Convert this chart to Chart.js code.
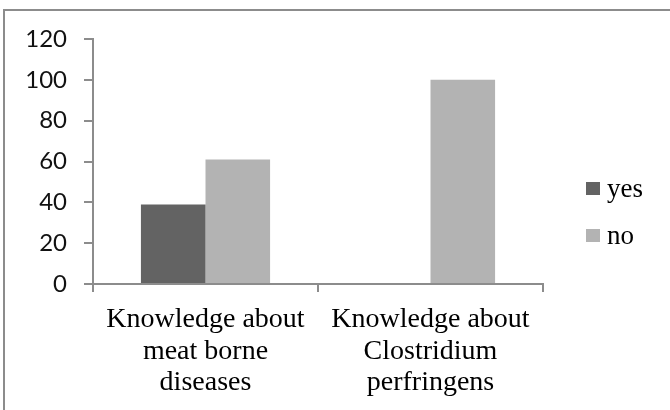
<!DOCTYPE html>
<html><head><meta charset="utf-8">
<script src="https://cdn.jsdelivr.net/npm/chart.js@4"></script>
<style>
html,body{margin:0;padding:0;background:#fff;}
#wrap{position:relative;width:670px;height:410px;overflow:hidden;}
#frame{position:absolute;left:3px;top:9px;width:700px;height:500px;border:2px solid #8c8c8c;box-sizing:border-box;pointer-events:none}
canvas{position:absolute;left:0;top:0}
</style></head><body>
<div id="wrap"><canvas id="c" width="670" height="410"></canvas><div id="frame"></div></div>
<script>
const categories = [["Knowledge about","meat borne","diseases"],["Knowledge about","Clostridium","perfringens"]];
const seriesNames = ["yes","no"];
const yesValues = [39, 0];
const noValues = [61, 100];
const yTicks = [0, 20, 40, 60, 80, 100, 120];

const AXIS_COLOR = '#8c8c8c';
const LEGEND_X = 586, LEGEND_TOP = 182, LEGEND_STEP = 47;

const sideLegend = {
  id: 'sideLegend',
  afterDraw(chart) {
    const ctx = chart.ctx;
    ctx.save();
    ctx.font = '27px "Liberation Serif"';
    ctx.textBaseline = 'alphabetic';
    ctx.textAlign = 'left';
    chart.data.datasets.forEach((ds, i) => {
      const y = LEGEND_TOP + i * LEGEND_STEP;
      ctx.fillStyle = ds.backgroundColor;
      ctx.fillRect(LEGEND_X, y, 14, 13);
      ctx.fillStyle = '#000';
      ctx.fillText(ds.label, LEGEND_X + 21, y + 15);
    });
    ctx.restore();
  }
};

new Chart(document.getElementById('c'), {
  type: 'bar',
  data: {
    labels: categories,
    datasets: [
      { label: seriesNames[0], data: yesValues, backgroundColor: '#636363', borderWidth: 0 },
      { label: seriesNames[1], data: noValues, backgroundColor: '#b3b3b3', borderWidth: 0 }
    ]
  },
  options: {
    responsive: false,
    devicePixelRatio: 1,
    animation: false,
    layout: { padding: { left: 0, right: 127, top: 39, bottom: 0 } },
    plugins: { legend: { display: false }, tooltip: { enabled: false } },
    datasets: { bar: { categoryPercentage: 0.574, barPercentage: 1.0 } },
    scales: {
      x: {
        afterFit: s => { s.height = 126; },
        border: { display: true, color: AXIS_COLOR, width: 2 },
        grid: { offset: true, drawOnChartArea: false, drawTicks: true, tickLength: 8, color: AXIS_COLOR, lineWidth: 2 },
        ticks: { color: '#000', padding: 12, font: { family: '"Liberation Serif"', size: 28, lineHeight: 1.13 } }
      },
      y: {
        min: 0, max: 120,
        afterFit: s => { s.width = 93; },
        afterBuildTicks: s => { s.ticks = yTicks.map(v => ({ value: v })); },
        border: { display: true, color: AXIS_COLOR, width: 2 },
        grid: { drawOnChartArea: false, drawTicks: true, tickLength: 9, color: AXIS_COLOR, lineWidth: 2 },
        ticks: { color: '#111', padding: 17, font: { family: 'Lato', size: 24 } }
      }
    }
  },
  plugins: [sideLegend]
});
</script>
</body></html>
